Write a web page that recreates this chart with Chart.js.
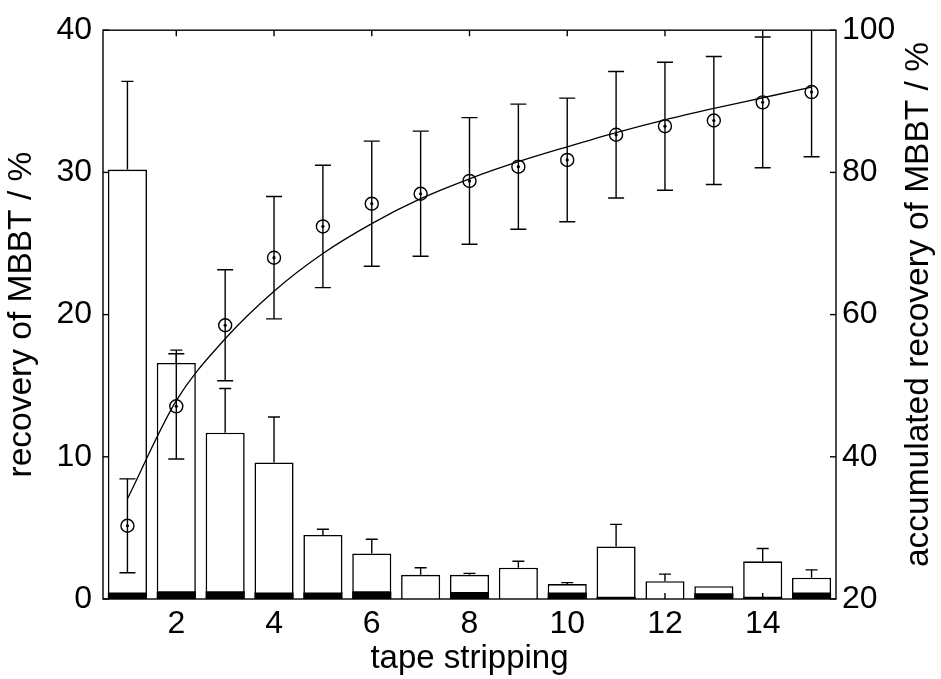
<!DOCTYPE html>
<html lang="en">
<head>
<meta charset="UTF-8">
<title>Recovery of MBBT per tape strip</title>
<script src="https://cdn.jsdelivr.net/npm/chart.js"></script>
<style>
    body { margin: 0; background: #fff; }
    #wrap { width: 941px; height: 679px; }
</style>
</head>
<body>
<div id="wrap"><canvas id="recoveryChart" width="941" height="679"></canvas></div>
<script>
    // tape strip number
    let strips = [1, 2, 3, 4, 5, 6, 7, 8, 9, 10, 11, 12, 13, 14, 15];
    // recovery per strip (left axis, %), upper error and the dark part of each bar
    let recovery = [30.2, 16.6, 11.7, 9.6, 4.5, 3.2, 1.7, 1.7, 2.2, 1.05, 3.7, 1.25, 0.9, 2.65, 1.5];
    let recoveryErr = [6.2, 0.9, 3.1, 3.2, 0.4, 1.0, 0.5, 0.1, 0.45, 0.1, 1.55, 0.5, 0, 0.9, 0.55];
    let recoveryDark = [0.45, 0.55, 0.55, 0.45, 0.45, 0.55, 0, 0.5, 0, 0.45, 0.15, 0, 0.4, 0.15, 0.45];
    // accumulated recovery (right axis, %)
    let accumulated = [30.3, 47.1, 58.5, 68.0, 72.4, 75.6, 77.0, 78.8, 80.8, 81.75, 85.3, 86.5, 87.3, 89.85, 91.3];
    let accumulatedErr = [6.6, 7.4, 7.8, 8.6, 8.6, 8.8, 8.8, 8.9, 8.8, 8.7, 8.9, 9.0, 9.0, 9.2, 9.1];
    // fitted curve read at each strip
    let accumulatedFit = [34.1, 47.9, 56.6, 63.3, 68.6, 72.8, 76.3, 79.1, 81.5, 83.6, 85.6, 87.4, 89.0, 90.5, 92.0];

    let xTicks = [2, 4, 6, 8, 10, 12, 14];
    let leftTicks = [0, 10, 20, 30, 40];
    let rightTicks = [20, 40, 60, 80, 100];
    let rightTitle = 'accumulated recovery of MBBT / %';

    Chart.defaults.font.family = "'Liberation Sans', Arial, sans-serif";
    Chart.defaults.color = '#000';

    function pts(values) {
        return strips.map((s, i) => ({ x: s, y: values[i] }));
    }

    function seg(ctx, x1, y1, x2, y2) {
        ctx.beginPath();
        ctx.moveTo(x1, y1);
        ctx.lineTo(x2, y2);
        ctx.stroke();
    }

    // error bars, frame, inward tick marks and the right title (reads upwards like matlab)
    const extras = {
        id: 'extras',
        afterDatasetsDraw(chart) {
            const ctx = chart.ctx;
            const area = chart.chartArea;
            const x = chart.scales.x, y = chart.scales.y, y2 = chart.scales.y2;

            ctx.save();
            ctx.beginPath();
            ctx.rect(area.left, area.top, area.right - area.left, area.bottom - area.top);
            ctx.clip();
            ctx.strokeStyle = '#000';
            ctx.lineWidth = 1.4;

            strips.forEach((s, i) => {
                if (!recoveryErr[i]) return;
                const px = x.getPixelForValue(s);
                const base = y.getPixelForValue(recovery[i]);
                const top = y.getPixelForValue(recovery[i] + recoveryErr[i]);
                seg(ctx, px, base, px, top);
                seg(ctx, px - 6, top, px + 6, top);
            });

            strips.forEach((s, i) => {
                const px = x.getPixelForValue(s);
                const hi = y2.getPixelForValue(accumulated[i] + accumulatedErr[i]);
                const lo = y2.getPixelForValue(accumulated[i] - accumulatedErr[i]);
                seg(ctx, px, lo, px, hi);
                seg(ctx, px - 8, hi, px + 8, hi);
                seg(ctx, px - 8, lo, px + 8, lo);
            });
            ctx.restore();

            ctx.save();
            ctx.strokeStyle = '#000';
            ctx.lineWidth = 1.4;
            ctx.strokeRect(area.left, area.top, area.right - area.left, area.bottom - area.top);
            const tl = 6;
            xTicks.forEach(v => {
                const px = x.getPixelForValue(v);
                seg(ctx, px, area.bottom, px, area.bottom - tl);
                seg(ctx, px, area.top, px, area.top + tl);
            });
            leftTicks.forEach(v => {
                const py = y.getPixelForValue(v);
                seg(ctx, area.left, py, area.left + tl, py);
            });
            rightTicks.forEach(v => {
                const py = y2.getPixelForValue(v);
                seg(ctx, area.right, py, area.right - tl, py);
            });
            ctx.restore();

            ctx.save();
            ctx.fillStyle = '#000';
            ctx.font = "33.5px 'Liberation Sans', Arial, sans-serif";
            ctx.textAlign = 'center';
            ctx.textBaseline = 'middle';
            ctx.translate(y2.right - 22, (area.top + area.bottom) / 2 - 10);
            ctx.rotate(-Math.PI / 2);
            ctx.fillText(rightTitle, 0, 0);
            ctx.restore();
        }
    };

    const bigFont = { size: 32 };

    new Chart(document.getElementById('recoveryChart'), {
        type: 'bar',
        data: {
            datasets: [
                {
                    type: 'line',
                    data: pts(accumulated),
                    yAxisID: 'y2',
                    showLine: false,
                    pointStyle: 'circle',
                    pointRadius: 1.6,
                    pointBackgroundColor: '#000',
                    pointBorderWidth: 0,
                    order: 0
                },
                {
                    type: 'line',
                    data: pts(accumulated),
                    yAxisID: 'y2',
                    showLine: false,
                    pointStyle: 'circle',
                    pointRadius: 6.5,
                    pointBackgroundColor: 'rgba(0,0,0,0)',
                    pointBorderColor: '#000',
                    pointBorderWidth: 1.4,
                    order: 1
                },
                {
                    type: 'line',
                    data: pts(accumulatedFit),
                    yAxisID: 'y2',
                    borderColor: '#000',
                    borderWidth: 1.3,
                    pointRadius: 0,
                    cubicInterpolationMode: 'monotone',
                    order: 2
                },
                {
                    data: pts(recoveryDark),
                    yAxisID: 'y',
                    backgroundColor: '#000',
                    borderWidth: 0,
                    barPercentage: 0.8,
                    categoryPercentage: 1,
                    grouped: false,
                    order: 3
                },
                {
                    data: pts(recovery),
                    yAxisID: 'y',
                    backgroundColor: '#fff',
                    borderColor: '#000',
                    borderWidth: 1.6,
                    barPercentage: 0.8,
                    categoryPercentage: 1,
                    grouped: false,
                    order: 4
                }
            ]
        },
        options: {
            responsive: false,
            animation: false,
            layout: { padding: { top: 29, left: 0, right: 0, bottom: 0 } },
            plugins: {
                legend: { display: false },
                tooltip: { enabled: false }
            },
            scales: {
                x: {
                    type: 'linear',
                    min: 0.5,
                    max: 15.5,
                    offset: false,
                    grid: { display: false, drawTicks: false },
                    border: { display: false },
                    ticks: { font: bigFont, padding: 6, maxRotation: 0, autoSkip: false },
                    afterBuildTicks: s => { s.ticks = xTicks.map(v => ({ value: v })); },
                    title: { display: true, text: 'tape stripping', font: { size: 33 }, padding: { top: 0, bottom: 0 } },
                    afterFit: s => { s.height = 80; }
                },
                y: {
                    position: 'left',
                    min: 0,
                    max: 40,
                    grid: { display: false, drawTicks: false },
                    border: { display: false },
                    ticks: { font: bigFont, padding: 11 },
                    afterBuildTicks: s => { s.ticks = leftTicks.map(v => ({ value: v })); },
                    title: { display: true, text: 'recovery of MBBT / %', font: { size: 33.5 }, padding: { top: 2, bottom: 0 } },
                    afterFit: s => { s.width = 103; }
                },
                y2: {
                    position: 'right',
                    min: 20,
                    max: 100,
                    grid: { display: false, drawTicks: false },
                    border: { display: false },
                    ticks: { font: bigFont, padding: 6 },
                    afterBuildTicks: s => { s.ticks = rightTicks.map(v => ({ value: v })); },
                    title: { display: false },
                    afterFit: s => { s.width = 105; }
                }
            }
        },
        plugins: [extras]
    });
</script>
</body>
</html>
